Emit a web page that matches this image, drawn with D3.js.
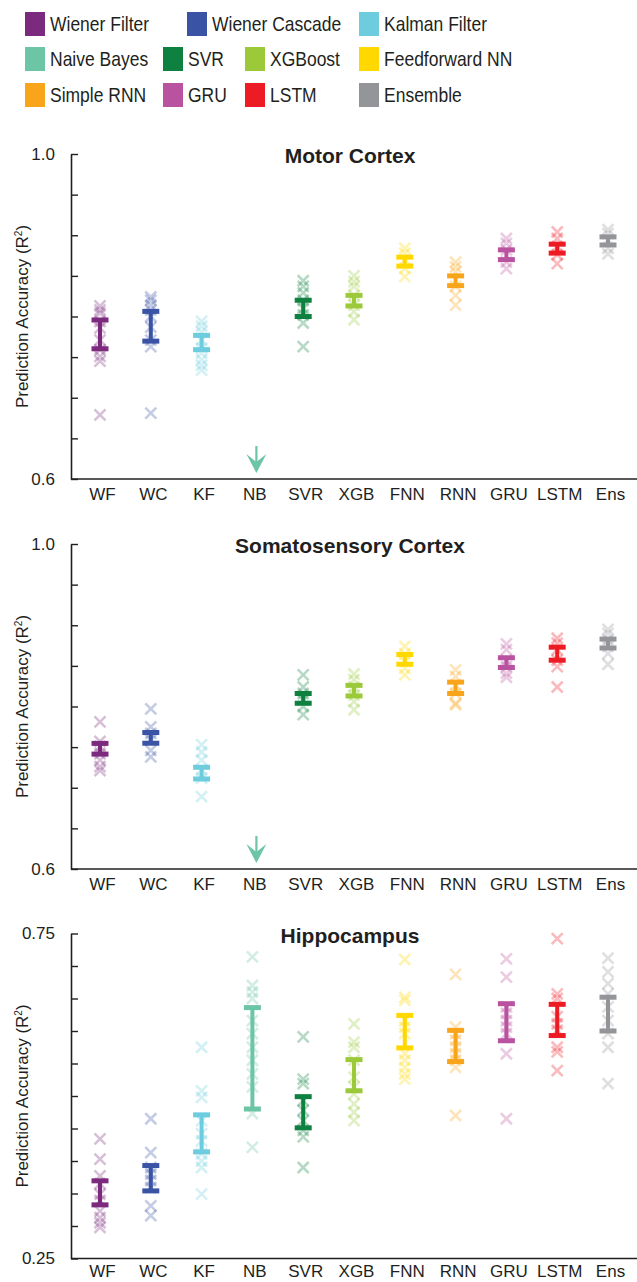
<!DOCTYPE html>
<html>
<head>
<meta charset="utf-8">
<script src="https://cdn.jsdelivr.net/npm/d3@7"></script>
<style>
  body { margin: 0; background: #fff; }
  text { font-family: "Liberation Sans", Arial, Helvetica, sans-serif; fill: #231f20; }
</style>
</head>
<body>
<svg id="chart" width="637" height="1282"></svg>
<script>
// methods, short names and colours
var methods = ["Wiener Filter", "Wiener Cascade", "Kalman Filter", "Naive Bayes", "SVR", "XGBoost",
  "Feedforward NN", "Simple RNN", "GRU", "LSTM", "Ensemble"];
var abbrevs = ["WF", "WC", "KF", "NB", "SVR", "XGB", "FNN", "RNN", "GRU", "LSTM", "Ens"];
var colors = ["#7b2a7e", "#3a53a4", "#6dccdd", "#6cc5a5", "#0e8140", "#9bc93a",
  "#ffd800", "#f8a51b", "#b9529f", "#ed1c24", "#939598"];

var panelTitles = ["Motor Cortex", "Somatosensory Cortex", "Hippocampus"];
var yDomains = [[0.6, 1.0], [0.6, 1.0], [0.25, 0.75]];
var yTicks = [
  [0.6, 0.65, 0.7, 0.75, 0.8, 0.85, 0.9, 0.95, 1.0],
  [0.6, 0.65, 0.7, 0.75, 0.8, 0.85, 0.9, 0.95, 1.0],
  [0.25, 0.3, 0.35, 0.4, 0.45, 0.5, 0.55, 0.6, 0.65, 0.7, 0.75]
];
var yTickLabels = [["0.6", "1.0"], ["0.6", "1.0"], ["0.25", "0.75"]];

// Motor cortex (null = naive bayes off the scale, drawn as arrow)
var motorMean = [0.778, 0.788, 0.768, null, 0.810, 0.8195, 0.8675, 0.844, 0.876, 0.8835, 0.893];
var motorSem = [0.0177, 0.0183, 0.0088, null, 0.010, 0.0065, 0.0055, 0.006, 0.006, 0.0055, 0.005];
var motorPts = [
  [0.813, 0.808, 0.804, 0.794, 0.786, 0.771, 0.759, 0.751, 0.745, 0.679],
  [0.824, 0.820, 0.814, 0.808, 0.800, 0.787, 0.771, 0.763, 0.681],
  [0.794, 0.788, 0.781, 0.771, 0.761, 0.755, 0.747, 0.740, 0.734],
  [],
  [0.844, 0.837, 0.829, 0.820, 0.810, 0.802, 0.792, 0.763],
  [0.850, 0.843, 0.837, 0.826, 0.814, 0.806, 0.796],
  [0.884, 0.878, 0.870, 0.859, 0.849],
  [0.867, 0.861, 0.855, 0.837, 0.826, 0.814],
  [0.896, 0.890, 0.882, 0.867, 0.859],
  [0.904, 0.896, 0.886, 0.876, 0.865],
  [0.907, 0.902, 0.894, 0.884, 0.877]
];

// Somatosensory cortex
var somatoMean = [0.748, 0.7614, 0.718, null, 0.810, 0.8195, 0.858, 0.823, 0.854, 0.865, 0.8775];
var somatoSem = [0.0066, 0.0066, 0.0072, null, 0.006, 0.0065, 0.006, 0.007, 0.006, 0.008, 0.0055];
var somatoPts = [
  [0.781, 0.757, 0.751, 0.742, 0.734, 0.726, 0.721],
  [0.797, 0.775, 0.767, 0.759, 0.746, 0.738],
  [0.753, 0.744, 0.734, 0.722, 0.712, 0.689],
  [],
  [0.839, 0.824, 0.816, 0.808, 0.800, 0.790],
  [0.840, 0.833, 0.824, 0.814, 0.806, 0.796],
  [0.874, 0.865, 0.855, 0.847, 0.839],
  [0.845, 0.837, 0.826, 0.816, 0.804, 0.802],
  [0.877, 0.870, 0.857, 0.849, 0.841, 0.836],
  [0.884, 0.878, 0.870, 0.857, 0.849, 0.824],
  [0.895, 0.890, 0.882, 0.874, 0.865, 0.852]
];

// Hippocampus
var hippoMean = [0.351, 0.3735, 0.4425, 0.558, 0.475, 0.532, 0.599, 0.577, 0.6135, 0.617, 0.626];
var hippoSem = [0.0185, 0.0195, 0.0285, 0.078, 0.024, 0.024, 0.025, 0.024, 0.0285, 0.024, 0.026];
var hippoPts = [
  [0.434, 0.403, 0.377, 0.365, 0.349, 0.339, 0.323, 0.313, 0.305, 0.298],
  [0.465, 0.413, 0.390, 0.380, 0.370, 0.359, 0.331, 0.316],
  [0.575, 0.508, 0.498, 0.462, 0.442, 0.431, 0.411, 0.400, 0.390, 0.349],
  [0.714, 0.670, 0.660, 0.650, 0.616, 0.596, 0.575, 0.555, 0.534, 0.514, 0.473, 0.421],
  [0.591, 0.526, 0.519, 0.493, 0.478, 0.462, 0.447, 0.437, 0.390],
  [0.611, 0.583, 0.575, 0.555, 0.529, 0.514, 0.503, 0.488, 0.475, 0.462],
  [0.710, 0.652, 0.647, 0.616, 0.606, 0.596, 0.565, 0.555, 0.544, 0.534, 0.526],
  [0.687, 0.606, 0.596, 0.586, 0.575, 0.565, 0.555, 0.544, 0.470],
  [0.711, 0.683, 0.637, 0.627, 0.616, 0.606, 0.596, 0.565, 0.465],
  [0.742, 0.657, 0.650, 0.622, 0.611, 0.601, 0.575, 0.568, 0.539],
  [0.712, 0.691, 0.673, 0.657, 0.637, 0.616, 0.596, 0.575, 0.519]
];

var panelMeans = [motorMean, somatoMean, hippoMean];
var panelSems = [motorSem, somatoSem, hippoSem];
var panelPts = [motorPts, somatoPts, hippoPts];

var svg = d3.select("#chart");

// ---- legend ----
var legendRows = [[0, 1, 2], [3, 4, 5, 6], [7, 8, 9, 10]];
var legendCols = [[25, 187, 359], [25, 163, 245, 359], [25, 163, 245, 359]];
var legendTops = [12, 47, 83];
legendRows.forEach(function (row, r) {
  row.forEach(function (m, c) {
    var g = svg.append("g").attr("transform", "translate(" + legendCols[r][c] + "," + legendTops[r] + ")");
    g.append("rect").attr("width", 20).attr("height", 24).attr("fill", colors[m]);
    g.append("text").attr("transform", "translate(25,19) scale(1,1.12)")
      .style("font-size", "17.5px").text(methods[m]);
  });
});

// ---- panels ----
var x = d3.scalePoint().domain(abbrevs).range([100, 608]);
var axisX = 71, plotH = 325;
var panelTops = [154, 544, 933.5];
var labelPad = [9, 9, 6];   // last panel sits against the bottom edge
var crossPath = "M-5.5,-5.5L5.5,5.5M-5.5,5.5L5.5,-5.5";

panelTitles.forEach(function (title, p) {
  var g = svg.append("g").attr("transform", "translate(0," + panelTops[p] + ")");
  var y = d3.scaleLinear().domain(yDomains[p]).range([plotH, 0]);

  // points
  abbrevs.forEach(function (a, i) {
    g.selectAll(null).data(panelPts[p][i]).enter().append("path")
      .attr("d", crossPath)
      .attr("transform", function (d) { return "translate(" + x(a) + "," + y(d) + ")"; })
      .attr("stroke", colors[i]).attr("stroke-width", 2.6).attr("fill", "none")
      .attr("opacity", 0.3);
  });

  // error bars
  abbrevs.forEach(function (a, i) {
    var m = panelMeans[p][i], s = panelSems[p][i];
    if (m === null) {
      // naive bayes off the bottom of the scale
      var ax = x(a) + 4;
      g.append("line").attr("x1", ax).attr("x2", ax).attr("y1", plotH - 33).attr("y2", plotH - 16)
        .attr("stroke", colors[i]).attr("stroke-width", 2.2);
      g.append("path")
        .attr("d", "M" + (ax - 10) + "," + (plotH - 25) + "L" + ax + "," + (plotH - 6) + "L" + (ax + 10) + "," + (plotH - 25) + "L" + ax + "," + (plotH - 17) + "Z")
        .attr("fill", colors[i]);
      return;
    }
    var lo = y(m - s), hi = y(m + s);
    g.append("line").attr("x1", x(a)).attr("x2", x(a)).attr("y1", lo).attr("y2", hi)
      .attr("stroke", colors[i]).attr("stroke-width", 4);
    [lo, hi].forEach(function (yy) {
      g.append("line").attr("x1", x(a) - 8.5).attr("x2", x(a) + 8.5).attr("y1", yy).attr("y2", yy)
        .attr("stroke", colors[i]).attr("stroke-width", 5);
    });
  });

  // y axis
  var yAxis = d3.axisLeft(y).tickValues(yTicks[p]).tickSizeInner(-7).tickSizeOuter(0).tickPadding(16)
    .tickFormat(function (d, i) {
      if (i === 0) return yTickLabels[p][0];
      if (i === yTicks[p].length - 1) return yTickLabels[p][1];
      return "";
    });
  var ya = g.append("g").attr("transform", "translate(" + axisX + ",0)").call(yAxis);
  ya.select(".domain").attr("stroke", "#231f20").attr("stroke-width", 1.6);
  ya.selectAll(".tick line").attr("stroke", "#231f20").attr("stroke-width", 1.4);
  ya.selectAll(".tick text").style("font-size", "17px").attr("fill", "#231f20");

  // x axis
  var xAxis = d3.axisBottom(x).tickSize(0).tickPadding(labelPad[p]);
  var xa = g.append("g").attr("transform", "translate(0," + plotH + ")").call(xAxis);
  xa.select(".domain").remove();
  xa.selectAll(".tick text").style("font-size", "17px").attr("fill", "#231f20").attr("dx", "2");
  g.append("line").attr("x1", axisX).attr("x2", 637).attr("y1", plotH).attr("y2", plotH)
    .attr("stroke", "#231f20").attr("stroke-width", 1.6);

  // title
  g.append("text").attr("x", 350).attr("y", 9).attr("text-anchor", "middle")
    .style("font-size", "21px").style("font-weight", "bold").attr("fill", "#000").text(title);

  // y label
  var ylab = g.append("text").attr("transform", "translate(28," + plotH / 2 + ") rotate(-90)")
    .attr("text-anchor", "middle").style("font-size", "17px");
  ylab.append("tspan").text("Prediction Accuracy (R");
  ylab.append("tspan").attr("dy", -6).style("font-size", "10px").text("2");
  ylab.append("tspan").attr("dy", 6).text(")");
});
</script>
</body>
</html>
